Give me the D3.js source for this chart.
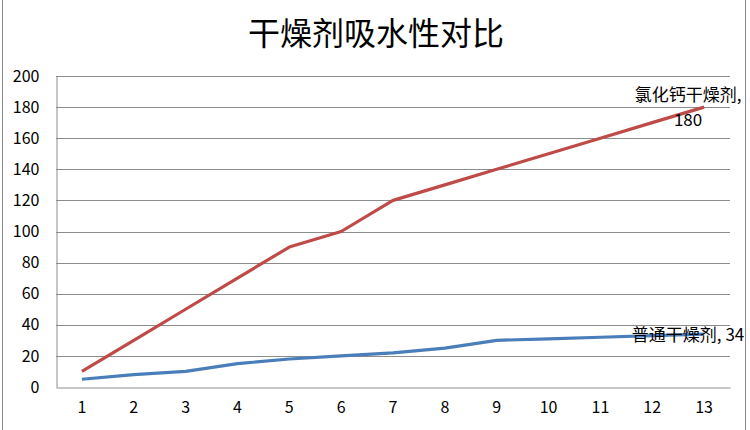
<!DOCTYPE html>
<html><head><meta charset="utf-8">
<script src="https://cdn.jsdelivr.net/npm/d3@7"></script>
<style>body{margin:0;background:#fff}svg{display:block}</style>
</head><body><svg id="c" width="750" height="430"></svg>
<script>
const categories = ["1","2","3","4","5","6","7","8","9","10","11","12","13"];
const seriesNames = ["氯化钙干燥剂", "普通干燥剂"];
const calciumChloride = [10,30,50,70,90,100,120,130,140,150,160,170,180];
const ordinary = [5,8,10,15,18,20,22,25,30,31,32,33,34];
const yTicks = [0,20,40,60,80,100,120,140,160,180,200];
const title = "干燥剂吸水性对比";

const svg = d3.select("#c");
const L = 56, R = 730, T = 76, B = 387;
const font = "'Noto Sans CJK SC', 'Open Sans', sans-serif";

svg.append("rect").attr("x",2.5).attr("y",-1).attr("width",743).attr("height",432)
  .attr("fill","#fff").attr("stroke","#8a8a8a").attr("stroke-width",1);

svg.append("text").attr("x",376).attr("y",45).attr("text-anchor","middle")
  .attr("font-family",font).attr("font-size",32).attr("fill","#000").text(title);

const x = d3.scaleBand().domain(categories).range([L,R]);
const y = d3.scaleLinear().domain([0,200]).range([B,T]);

// gridlines
svg.append("g").selectAll("line").data(yTicks.filter(d=>d>0)).join("line")
  .attr("x1",L).attr("x2",R).attr("y1",d=>Math.round(y(d))+0.5).attr("y2",d=>Math.round(y(d))+0.5)
  .attr("stroke","#8c8c8c").attr("stroke-width",1);

// y axis
const ya = svg.append("g").attr("transform",`translate(${L+0.5},0)`)
  .call(d3.axisLeft(y).tickValues(yTicks).tickSize(0).tickPadding(17));
ya.select(".domain").attr("stroke","#8c8c8c");
ya.selectAll("text").attr("font-family",font).attr("font-size",16).attr("fill","#000");

// x axis
const xa = svg.append("g").attr("transform",`translate(0,${B+0.5})`)
  .call(d3.axisBottom(x).tickSize(0).tickPadding(14));
xa.select(".domain").attr("stroke","#8c8c8c");
xa.selectAll("text").attr("font-family",font).attr("font-size",16).attr("fill","#000");

const line = d3.line().x((d,i)=>x(categories[i])+x.bandwidth()/2).y(d=>y(d));
const series = [
  {name: seriesNames[0], values: calciumChloride, color:"#BE4B48"},
  {name: seriesNames[1], values: ordinary, color:"#4A7EBB"}
];
svg.append("g").selectAll("path").data(series).join("path")
  .attr("d",d=>line(d.values)).attr("fill","none").attr("stroke",d=>d.color)
  .attr("stroke-width",3.2).attr("stroke-linejoin","round");

// data labels at last point
const last = categories.length-1;
const lx = x(categories[last]) + x.bandwidth()/2;
const s0 = series[0], s1 = series[1];
const g0 = svg.append("g").attr("font-family",font).attr("font-size",17).attr("fill","#000");
g0.append("text").attr("x",lx-16).attr("y",y(s0.values[last])-6).attr("text-anchor","middle")
  .text(s0.name+",");
g0.append("text").attr("x",lx-16).attr("y",y(s0.values[last])+19).attr("text-anchor","middle")
  .text(s0.values[last]);
g0.append("text").attr("x",lx-16).attr("y",y(s1.values[last])+7).attr("text-anchor","middle")
  .text(s1.name+", "+s1.values[last]);
</script></body></html>
